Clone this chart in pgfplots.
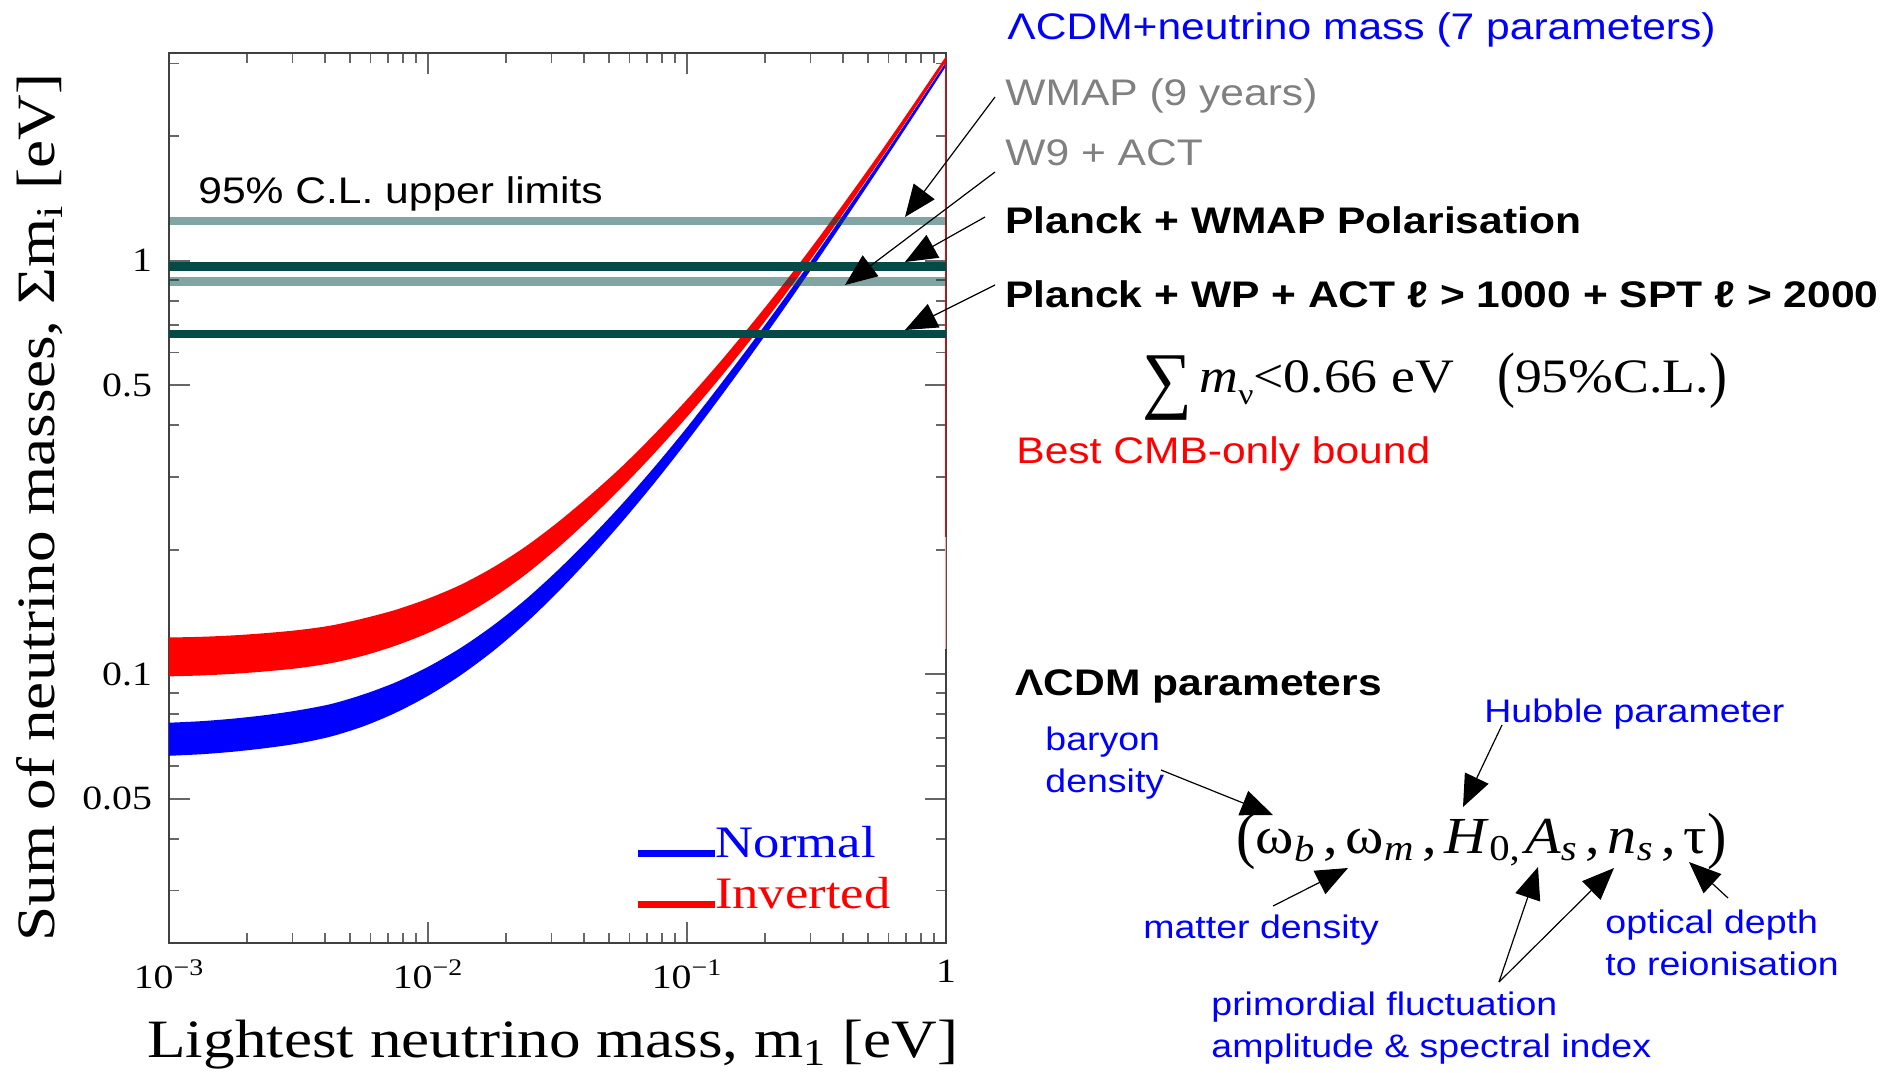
\documentclass[border=0pt]{standalone}
\usepackage{fontspec}
\usepackage{graphicx}
\usepackage{pgfplots}
\usepackage{pgfplotstable}
\pgfplotsset{compat=1.18}
\usepgfplotslibrary{fillbetween}
\usetikzlibrary{arrows.meta}
\setmainfont{Liberation Sans}[FakeStretch=1.15]
\newfontfamily\serifst{Liberation Serif}[FakeStretch=1.17]
\newfontfamily\tnr{Liberation Serif}[FakeStretch=1.12]
\newcommand\sz[1]{\fontsize{#1}{#1}\selectfont}
\definecolor{darkteal}{RGB}{6,74,72}
\definecolor{lblue}{RGB}{0,0,255}
\definecolor{lgrey}{RGB}{128,128,128}
\definecolor{lred}{RGB}{255,0,0}

% Normal hierarchy band (lower / upper edge)
\pgfplotstableread{
m        lo       hi
0.001    0.06353  0.07638
0.0013335 0.06408 0.07704
0.0017783 0.06501 0.07816
0.0023714 0.06633 0.07974
0.0031623 0.06807 0.08185
0.0042170 0.07073 0.08474
0.0056234 0.07485 0.08937
0.0074989 0.08072 0.09561
0.01     0.08871  0.10423
0.013335 0.09940  0.11571
0.017783 0.11363  0.13106
0.023714 0.13255  0.15132
0.031623 0.15776  0.17824
0.042170 0.19090  0.21322
0.056234 0.23399  0.25835
0.074989 0.29061  0.31754
0.1      0.36560  0.39537
0.13335  0.46464  0.49843
0.17783  0.59456  0.63271
0.23714  0.76650  0.80910
0.31623  0.9954   1.0423
0.42170  1.2996   1.3514
0.56234  1.7026   1.7583
0.74989  2.2387   2.3014
1        2.9545   3.0236
}\normaltab

% Inverted hierarchy band (lower / upper edge)
\pgfplotstableread{
m        lo       hi
0.001    0.09886  0.12274
0.0013335 0.09936 0.12322
0.0017783 0.10028 0.12422
0.0023714 0.10167 0.12580
0.0031623 0.10351 0.12794
0.0042170 0.10639 0.13119
0.0056234 0.11092 0.13645
0.0074989 0.11733 0.14318
0.01     0.12589  0.15240
0.013335 0.13743  0.16448
0.017783 0.15310  0.18114
0.023714 0.17402  0.20328
0.031623 0.20184  0.23280
0.042170 0.23791  0.27065
0.056234 0.28386  0.31849
0.074989 0.34292  0.38125
0.1      0.41929  0.46182
0.13335  0.51880  0.56689
0.17783  0.64938  0.70389
0.23714  0.82224  0.88206
0.31623  1.0532   1.1181
0.42170  1.3607   1.4315
0.56234  1.7681   1.8429
0.74989  2.3110   2.3923
1        3.0374   3.1225
}\invertedtab

\begin{document}
\begin{tikzpicture}
\begin{scope}[x=0.5pt,y=-0.5pt]
\useasboundingbox (0,0) rectangle (1896,1072);
\end{scope}
\begin{axis}[
  at={(84.5pt,-471.5pt)}, anchor=south west,
  width=388.5pt, height=445pt, scale only axis,
  xmode=log, ymode=log,
  xmin=0.001, xmax=1, ymin=0.0224, ymax=3.18,
  xtick={0.001,0.01,0.1,1},
  xticklabels={10\textsuperscript{−3},10\textsuperscript{−2},10\textsuperscript{−1},1},
  minor xtick={0.002,0.003,0.004,0.005,0.006,0.007,0.008,0.009,0.02,0.03,0.04,0.05,0.06,0.07,0.08,0.09,0.2,0.3,0.4,0.5,0.6,0.7,0.8,0.9},
  ytick={0.05,0.1,0.5,1},
  yticklabels={0.05,0.1,0.5,1},
  minor ytick={0.03,0.04,0.06,0.07,0.08,0.09,0.2,0.3,0.4,0.6,0.7,0.8,0.9,2,3},
  tick align=inside,
  major tick length=10.5pt, minor tick length=5pt,
  every tick/.style={color=black!60, line width=0.9pt},
  axis line style={line width=1pt, black!75},
  ticklabel style={font=\serifst\sz{17pt}},
  xticklabel style={yshift=-5pt},
  yticklabel style={xshift=-5pt},
  xlabel={Lightest neutrino mass, m\textsubscript{1} [eV]},
  ylabel={Sum of neutrino masses, Σm\textsubscript{i} [eV]},
  label style={font=\serifst\sz{27pt}},
  xlabel style={at={(axis description cs:0.494,-0.1145)}, anchor=center, inner sep=0pt},
  ylabel style={at={(axis description cs:-0.166,0.489)}, anchor=center},
  legend style={at={(axis description cs:0.598,0.136)}, anchor=north west,
    draw=none, fill=none, inner sep=0pt, font=\serifst\sz{22.5pt}, row sep=4.5pt,
    /tikz/every odd column/.append style={column sep=-3.5pt}},
  legend cell align=left,
  legend image code/.code={\path[draw=none, fill=none] (0pt,6.8pt) -- (0pt,-6.8pt); \draw[#1] (0pt,-5pt) -- (38.5pt,-5pt);},
]
\addlegendimage{line width=3.5pt, lblue}
\addlegendentry{\textcolor{lblue}{Normal}}
\addlegendimage{line width=3.5pt, lred}
\addlegendentry{\textcolor{lred}{Inverted}}

\addplot[draw=none, forget plot, smooth, name path=nlo] table[x=m, y=lo] {\normaltab};
\addplot[draw=none, forget plot, smooth, name path=nhi] table[x=m, y=hi] {\normaltab};
\addplot[fill=lblue, draw=none, forget plot] fill between[of=nlo and nhi];
\addplot[draw=none, forget plot, smooth, name path=ilo] table[x=m, y=lo] {\invertedtab};
\addplot[draw=none, forget plot, smooth, name path=ihi] table[x=m, y=hi] {\invertedtab};
\addplot[fill=lred, draw=none, forget plot] fill between[of=ilo and ihi];

\addplot[red!35, line width=0.8pt, forget plot] coordinates {(1,0.115) (1,0.215)};
\addplot[lred, line width=1.2pt, forget plot] coordinates {(1,0.215) (1,3.08)};

% 95% C.L. upper limits
\addplot[darkteal, opacity=0.5, line width=4.1pt, forget plot] coordinates {(0.001,1.25) (1,1.25)};
\addplot[darkteal, line width=4.1pt, forget plot] coordinates {(0.001,0.969) (1,0.969)};
\addplot[darkteal, opacity=0.5, line width=4.1pt, forget plot] coordinates {(0.001,0.891) (1,0.891)};
\addplot[darkteal, line width=4.1pt, forget plot] coordinates {(0.001,0.665) (1,0.665)};
\end{axis}

\begin{scope}[x=0.5pt,y=-0.5pt]
\tikzset{lab/.style={anchor=base west, inner sep=0pt, font=\sz{18.5pt}},
         blab/.style={anchor=base west, inner sep=0pt, font=\sz{16.3pt}, text=lblue},
         arr/.style={line width=0.6pt, -{Triangle[length=16pt, width=13pt]}}}
\node[lab] at (198,203) {95\% C.L. upper limits};
\node[lab, text=lblue] at (1007,39) {ΛCDM+neutrino mass (7 parameters)};
\node[lab, text=lgrey] at (1005,105) {WMAP (9 years)};
\node[lab, text=lgrey] at (1005,165) {W9 + ACT};
\node[lab, font=\sz{18.5pt}\bfseries] at (1005,233) {Planck + WMAP Polarisation};
\node[lab, font=\sz{18.5pt}\bfseries] at (1005,307) {Planck + WP + ACT ℓ > 1000 + SPT ℓ > 2000};
\node[lab, font=\tnr\sz{24pt}] at (1142,392) {\raisebox{-0.26em}{\scalebox{1.3}[1.55]{∑}}\hspace{0.15em}\textit{m}\raisebox{-0.25em}{\sz{15pt}ν}<0.66 eV\hspace{0.9em}\raisebox{-0.07em}{\scalebox{1}[1.28]{(}}95\%C.L.\raisebox{-0.07em}{\scalebox{1}[1.28]{)}}};
\node[lab, text=lred] at (1016,463) {Best CMB-only bound};
\node[lab, font=\sz{18.5pt}\bfseries] at (1015,695) {ΛCDM parameters};
\node[blab] at (1484,722) {Hubble parameter};
\node[blab] at (1045,750) {baryon};
\node[blab] at (1045,792) {density};
\node[lab, font=\tnr\sz{26pt}] at (1236,853) {\raisebox{-0.06em}{\scalebox{1}[1.2]{(}}ω\textsubscript{\textit{b}}\hspace{0.15em},\hspace{0.15em}ω\textsubscript{\textit{m}}\hspace{0.15em},\hspace{0.15em}\textit{H}\textsubscript{0,}\hspace{0.08em}\textit{A}\textsubscript{\textit{s}}\hspace{0.15em},\hspace{0.15em}\textit{n}\textsubscript{\textit{s}}\hspace{0.15em},\hspace{0.15em}τ\raisebox{-0.06em}{\scalebox{1}[1.2]{)}}};
\node[blab] at (1143,938) {matter density};
\node[blab] at (1605,933) {optical depth};
\node[blab] at (1605,975) {to reionisation};
\node[blab] at (1211,1015) {primordial fluctuation};
\node[blab] at (1211,1057) {amplitude \& spectral index};

\draw[arr] (995,97) -- (905,217);
\draw[arr] (995,172) -- (845,285);
\draw[arr] (985,217) -- (905,262);
\draw[arr] (995,285) -- (905,330);
\draw[arr] (1161,770) -- (1273,815);
\draw[arr] (1502,725) -- (1463,807);
\draw[arr] (1273,906) -- (1348,868);
\draw[arr] (1499,982) -- (1538,867);
\draw[arr] (1499,982) -- (1614,868);
\draw[arr] (1728,898) -- (1689,862);
\pgfresetboundingbox
\useasboundingbox (0,0) rectangle (1896,1072);
\end{scope}
\end{tikzpicture}
\end{document}
